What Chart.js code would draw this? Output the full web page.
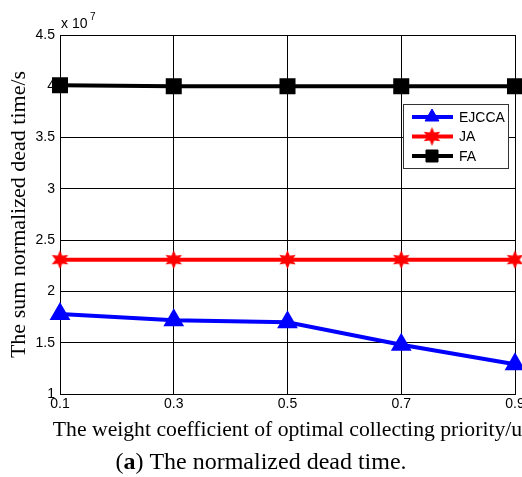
<!DOCTYPE html>
<html>
<head>
<meta charset="utf-8">
<script src="https://cdn.jsdelivr.net/npm/chart.js@4/dist/chart.umd.min.js"></script>
<style>
  html, body { margin: 0; padding: 0; background: #fff; }
  #wrap { width: 522px; height: 477px; position: relative; }
</style>
</head>
<body>
<div id="wrap"><canvas id="grafico" width="522" height="477"></canvas></div>
<script>
// DATI
const xValues = [0.1, 0.3, 0.5, 0.7, 0.9];
const xTicks = [0.1, 0.3, 0.5, 0.7, 0.9];
const yTicks = [1, 1.5, 2, 2.5, 3, 3.5, 4, 4.5];
const ejcca = [1.78, 1.72, 1.70, 1.48, 1.29];
const ja = [2.31, 2.31, 2.31, 2.31, 2.31];
const fa = [4.01, 4.0, 4.0, 4.0, 4.0];
const seriesNames = ['EJCCA', 'JA', 'FA'];
const xTitle = 'The weight coefficient of optimal collecting priority/u';

const serif = '"Liberation Serif", "Times New Roman", serif';
const sans = '"Liberation Sans", Arial, sans-serif';

// stella a 6 punte (hexagram)
function makeStar(color, size) {
  const c = document.createElement('canvas');
  c.width = size; c.height = size;
  const ctx = c.getContext('2d');
  const cx = size / 2, cy = size / 2;
  const rOut = size / 2, rIn = size / 4.2;
  ctx.beginPath();
  for (let i = 0; i < 12; i++) {
    const r = i % 2 === 0 ? rOut : rIn;
    const a = -Math.PI / 2 + i * Math.PI / 6;
    const px = cx + r * Math.cos(a), py = cy + r * Math.sin(a);
    if (i === 0) ctx.moveTo(px, py); else ctx.lineTo(px, py);
  }
  ctx.closePath();
  ctx.fillStyle = color;
  ctx.fill();
  return c;
}
const starImg = makeStar('#ff0000', 19);

function toPoints(arr) {
  return arr.map((v, i) => ({ x: xValues[i], y: v }));
}

// legenda dentro al grafico
const legendaPlugin = {
  id: 'legendaInterna',
  afterDatasetsDraw(chart) {
    const ctx = chart.ctx;
    const bx = 403, by = 104, bw = 105, bh = 64;
    ctx.save();
    ctx.fillStyle = '#fff';
    ctx.fillRect(bx, by, bw, bh);
    ctx.strokeStyle = '#333';
    ctx.lineWidth = 1;
    ctx.strokeRect(bx + 0.5, by + 0.5, bw, bh);
    chart.data.datasets.forEach((ds, i) => {
      const y = 117 + i * 19.5;
      ctx.strokeStyle = ds.borderColor;
      ctx.lineWidth = 4;
      ctx.beginPath();
      ctx.moveTo(412, y);
      ctx.lineTo(453, y);
      ctx.stroke();
      ctx.fillStyle = ds.pointBackgroundColor;
      ctx.strokeStyle = ds.borderColor;
      ctx.lineWidth = 1;
      Chart.helpers.drawPoint(ctx, {
        pointStyle: ds.pointStyle,
        radius: ds.pointRadius,
        borderWidth: 1,
        rotation: 0
      }, 432, y);
      ctx.fillStyle = '#000';
      ctx.font = '14px ' + sans;
      ctx.textBaseline = 'middle';
      ctx.textAlign = 'left';
      ctx.fillText(ds.label, 459, y + 1);
    });
    ctx.restore();
  }
};

// testi extra: moltiplicatore, titolo asse x e didascalia
const testiPlugin = {
  id: 'testiExtra',
  afterDraw(chart) {
    const ctx = chart.ctx;
    const area = chart.chartArea;
    ctx.save();
    ctx.fillStyle = '#000';
    ctx.textBaseline = 'alphabetic';
    ctx.textAlign = 'left';
    ctx.font = '14px ' + sans;
    ctx.fillText('x 10', 61, 28);
    ctx.font = '10px ' + sans;
    ctx.fillText('7', 90, 20);

    // titolo asse x (più largo dell'area del grafico)
    ctx.font = '21.7px ' + serif;
    ctx.textAlign = 'center';
    ctx.fillText(xTitle, (area.left + area.right) / 2, 436);

    const fs = 24;
    const part1 = '(';
    const part2 = 'a';
    const part3 = ') The normalized dead time.';
    ctx.textAlign = 'left';
    ctx.font = fs + 'px ' + serif;
    const w1 = ctx.measureText(part1).width;
    const w3 = ctx.measureText(part3).width;
    ctx.font = 'bold ' + fs + 'px ' + serif;
    const w2 = ctx.measureText(part2).width;
    let x = 261 - (w1 + w2 + w3) / 2;
    const y = 469;
    ctx.font = fs + 'px ' + serif;
    ctx.fillText(part1, x, y); x += w1;
    ctx.font = 'bold ' + fs + 'px ' + serif;
    ctx.fillText(part2, x, y); x += w2;
    ctx.font = fs + 'px ' + serif;
    ctx.fillText(part3, x, y);
    ctx.restore();
  }
};

const canvas = document.getElementById('grafico');
const chart = new Chart(canvas, {
  type: 'line',
  data: {
    datasets: [
      {
        label: seriesNames[0],
        data: toPoints(ejcca),
        borderColor: '#0000ff',
        backgroundColor: '#0000ff',
        pointBackgroundColor: '#0000ff',
        pointBorderColor: '#0000ff',
        pointStyle: 'triangle',
        pointRadius: 8,
        borderWidth: 4,
        clip: false
      },
      {
        label: seriesNames[1],
        data: toPoints(ja),
        borderColor: '#ff0000',
        backgroundColor: '#ff0000',
        pointBackgroundColor: '#ff0000',
        pointBorderColor: '#ff0000',
        pointStyle: starImg,
        pointRadius: 9,
        borderWidth: 4,
        clip: false
      },
      {
        label: seriesNames[2],
        data: toPoints(fa),
        borderColor: '#000000',
        backgroundColor: '#000000',
        pointBackgroundColor: '#000000',
        pointBorderColor: '#000000',
        pointStyle: 'rect',
        pointRadius: 8.5,
        borderWidth: 4,
        clip: false
      }
    ]
  },
  options: {
    responsive: false,
    animation: false,
    events: [],
    layout: { autoPadding: false, padding: { top: 35, right: 7, bottom: 33, left: 0 } },
    plugins: {
      legend: { display: false },
      tooltip: { enabled: false }
    },
    scales: {
      x: {
        type: 'linear',
        min: 0.1,
        max: 0.9,
        afterBuildTicks: s => { s.ticks = xTicks.map(v => ({ value: v })); },
        afterFit: s => { s.height = 50; s.paddingLeft = 0; s.paddingRight = 0; },
        grid: { color: '#000', lineWidth: 1, drawTicks: false },
        border: { color: '#000', width: 1 },
        ticks: {
          color: '#000',
          font: { family: sans, size: 14 },
          padding: 2,
          maxRotation: 0,
          callback: v => String(v)
        },
        title: { display: false }
      },
      y: {
        min: 1,
        max: 4.5,
        afterBuildTicks: s => { s.ticks = yTicks.map(v => ({ value: v })); },
        afterFit: s => { s.width = 60; s.paddingTop = 0; s.paddingBottom = 0; },
        grid: { color: '#000', lineWidth: 1, drawTicks: false },
        border: { color: '#000', width: 1 },
        ticks: {
          color: '#000',
          font: { family: sans, size: 14 },
          padding: 5,
          callback: v => String(v)
        },
        title: {
          display: true,
          text: 'The sum normalized dead time/s',
          color: '#000',
          font: { family: serif, size: 22 },
          padding: { top: 6, bottom: 0 }
        }
      }
    }
  },
  plugins: [legendaPlugin, testiPlugin]
});
</script>
</body>
</html>
